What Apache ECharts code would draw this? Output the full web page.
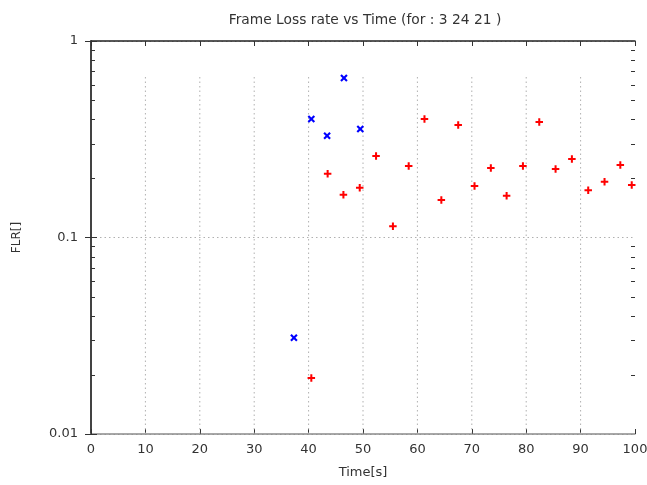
<!DOCTYPE html>
<html>
<head>
<meta charset="utf-8">
<script src="https://cdn.jsdelivr.net/npm/echarts@6/dist/echarts.min.js"></script>
<style>
html,body{margin:0;padding:0;background:#fff;}
#c{width:647px;height:485px;}
</style>
</head>
<body>
<div id="c"></div>
<script>
const titleText = 'Frame Loss rate vs Time (for : 3 24 21 )';
const xName = 'Time[s]';
const yName = 'FLR[]';
const xTicks = [0, 10, 20, 30, 40, 50, 60, 70, 80, 90, 100];
const yTicks = [0.01, 0.1, 1];
const blueTime = [37.3, 40.5, 43.4, 46.5, 49.5];
const blueFLR = [0.0309, 0.401, 0.329, 0.648, 0.357];
const redTime = [40.5, 43.5, 46.4, 49.4, 52.4, 55.5, 58.4, 61.3, 64.4, 67.5, 70.5, 73.5, 76.4, 79.4, 82.4, 85.4, 88.4, 91.4, 94.4, 97.3, 99.4];
const redFLR = [0.0193, 0.211, 0.165, 0.179, 0.260, 0.114, 0.231, 0.401, 0.155, 0.374, 0.183, 0.226, 0.163, 0.231, 0.387, 0.223, 0.251, 0.174, 0.192, 0.234, 0.185];
const gridTop = 0.656; // vertical grid lines stop below the (empty) key area

const FONT = 'DejaVu Sans';
const TXT = '#333';
const plusPath = 'path://M3.65,0H6.35V3.65H10V6.35H6.35V10H3.65V6.35H0V3.65H3.65Z';
const crossPath = 'path://M0,2L2,0L5,3L8,0L10,2L7,5L10,8L8,10L5,7L2,10L0,8L3,5Z';

const chart = echarts.init(document.getElementById('c'), null, {renderer: 'canvas'});
const xMin = xTicks[0], xMax = xTicks[xTicks.length - 1];
const yMin = yTicks[0], yMax = yTicks[yTicks.length - 1];

const option = {
  animation: false,
  backgroundColor: '#fff',
  title: {
    text: titleText, left: 360, top: 8, textAlign: 'center',
    textStyle: {fontFamily: FONT, fontSize: 13.8, fontWeight: 'normal', color: TXT}
  },
  grid: {left: 91, top: 41, right: 12, bottom: 51, containLabel: false, outerBoundsMode: 'none'},
  xAxis: [{
    type: 'value', min: xMin, max: xMax, interval: 10, position: 'bottom',
    name: xName, nameLocation: 'middle', nameGap: 32,
    nameTextStyle: {fontFamily: FONT, fontSize: 13, color: TXT},
    axisLine: {lineStyle: {color: '#8a8a8a', width: 1.5}},
    axisTick: {inside: true, length: 5, lineStyle: {color: '#333'}},
    axisLabel: {fontFamily: FONT, fontSize: 13, color: TXT, margin: 9},
    splitLine: {show: false}
  }, {
    type: 'value', min: xMin, max: xMax, interval: 10, position: 'top',
    axisLine: {lineStyle: {color: '#222', width: 1.5}},
    axisTick: {inside: true, length: 5, lineStyle: {color: '#333'}},
    axisLabel: {show: false}, splitLine: {show: false}
  }],
  yAxis: [{
    type: 'log', logBase: 10, min: yMin, max: yMax, position: 'left',
    name: yName, nameLocation: 'middle', nameGap: 68, nameRotate: 90,
    nameTextStyle: {fontFamily: FONT, fontSize: 12, color: TXT},
    axisLine: {lineStyle: {color: '#8a8a8a', width: 1.5}},
    axisTick: {inside: true, length: 6, lineStyle: {color: '#333'}},
    axisLabel: {fontFamily: FONT, fontSize: 13, color: TXT, margin: 13,
      formatter: v => String(+v.toPrecision(3))},
    splitLine: {show: true, lineStyle: {color: '#b0b0b0', type: [1.5, 3], width: 1}}
  }, {
    type: 'log', logBase: 10, min: yMin, max: yMax, position: 'right',
    axisLine: {lineStyle: {color: '#222', width: 1.5}},
    axisTick: {inside: true, length: 6, lineStyle: {color: '#333'}},
    axisLabel: {show: false}, splitLine: {show: false}
  }],
  series: [{
    type: 'scatter', name: 'blue', symbol: crossPath, symbolSize: 7.5,
    itemStyle: {color: '#0000ff', opacity: 1},
    data: blueTime.map((t, i) => [t, blueFLR[i]]),
    z: 5
  }, {
    type: 'scatter', name: 'red', symbol: plusPath, symbolSize: 7.5,
    itemStyle: {color: '#ff0000', opacity: 1},
    data: redTime.map((t, i) => [t, redFLR[i]]),
    z: 5
  }]
};
chart.setOption(option);

// grid lines and minor ticks placed through the chart's own scales
const els = [];
const P = (x, y) => chart.convertToPixel({xAxisIndex: 0, yAxisIndex: 0}, [x, y]);
xTicks.slice(1, -1).forEach(t => {
  const a = P(t, yMin), b = P(t, gridTop);
  els.push({type: 'line', shape: {x1: a[0], y1: a[1], x2: b[0], y2: b[1]},
    style: {stroke: '#b0b0b0', lineWidth: 1, lineDash: [1.5, 3]}, z: 1, silent: true});
});
const minorVals = [];
for (let d = 0; d < yTicks.length - 1; d++) {
  for (let k = 2; k <= 9; k++) minorVals.push(+(yTicks[d] * k).toPrecision(3));
}
minorVals.forEach(v => {
  const l = P(xMin, v), r = P(xMax, v);
  const y = Math.round(l[1]) + 0.5;
  els.push({type: 'line', shape: {x1: l[0], y1: y, x2: l[0] + 4, y2: y},
    style: {stroke: '#333', lineWidth: 1}, z: 10, silent: true});
  els.push({type: 'line', shape: {x1: r[0], y1: y, x2: r[0] - 4, y2: y},
    style: {stroke: '#333', lineWidth: 1}, z: 10, silent: true});
});
chart.setOption({graphic: {elements: els}});
</script>
</body>
</html>
